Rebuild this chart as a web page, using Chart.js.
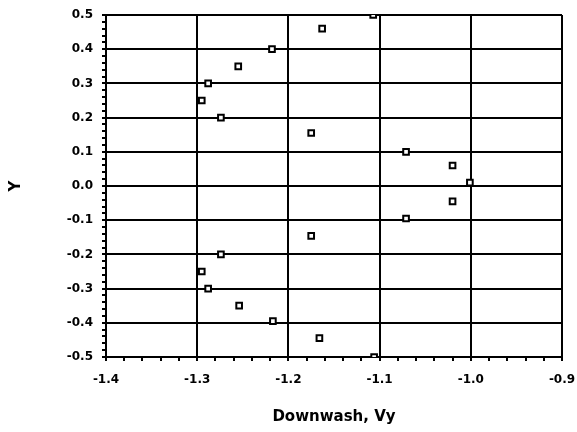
<!DOCTYPE html>
<html>
<head>
<meta charset="utf-8">
<script src="https://cdn.jsdelivr.net/npm/chart.js@4/dist/chart.umd.min.js"></script>
<style>
  html, body { margin: 0; padding: 0; background: #fff; }
  #wrap { width: 577px; height: 432px; }
</style>
</head>
<body>
<div id="wrap"><canvas id="chart" width="577" height="432"></canvas></div>
<script>
// downwash vs. span position
const vy = [-1.107, -1.163, -1.218, -1.255, -1.288, -1.295, -1.274, -1.175, -1.071, -1.020, -1.001,
            -1.020, -1.071, -1.175, -1.274, -1.295, -1.288, -1.254, -1.217, -1.166, -1.106];
const yPos = [0.50, 0.46, 0.40, 0.35, 0.30, 0.25, 0.20, 0.155, 0.10, 0.06, 0.01,
              -0.045, -0.095, -0.146, -0.20, -0.25, -0.30, -0.35, -0.395, -0.445, -0.50];

const xRange = [-1.4, -0.9];
const yRange = [-0.5, 0.5];
const xTitle = 'Downwash, Vy';
const yTitle = 'Y';

const points = vy.map((v, i) => ({ x: v, y: yPos[i] }));

const isMajor = v => Math.abs(v * 10 - Math.round(v * 10)) < 1e-6;
const family = 'DejaVu Sans, Arial, sans-serif';
const font = { family, size: 12, weight: 'bold' };
const titleFont = { family, size: 15, weight: 'bold' };

new Chart(document.getElementById('chart'), {
    type: 'scatter',
    data: {
        datasets: [{
            data: points,
            pointStyle: 'rect',
            pointRadius: 4,
            pointBorderWidth: 2,
            pointBorderColor: '#000',
            pointBackgroundColor: '#fff',
        }]
    },
    options: {
        responsive: false,
        animation: false,
        layout: { padding: { top: 15, right: 15, bottom: 6, left: 7 } },
        plugins: { legend: { display: false }, tooltip: { enabled: false } },
        scales: {
            x: {
                type: 'linear',
                min: xRange[0], max: xRange[1],
                afterFit: s => { s.height = 69; s.paddingLeft = 0; s.paddingRight = 0; },
                border: { color: '#000', width: 2 },
                grid: {
                    color: c => (c.tick && isMajor(c.tick.value)) ? '#000' : 'rgba(0,0,0,0)',
                    lineWidth: 2,
                    tickColor: '#000',
                    tickLength: 4,
                },
                ticks: {
                    stepSize: 0.02, autoSkip: false, maxRotation: 0,
                    color: '#000', font, padding: 12,
                    callback: v => isMajor(v) ? v.toFixed(1) : '',
                },
                title: {
                    display: true, text: xTitle, color: '#000',
                    font: titleFont,
                    padding: { top: 4, bottom: 0 },
                },
            },
            y: {
                type: 'linear',
                min: yRange[0], max: yRange[1],
                afterFit: s => { s.width = 99; s.paddingTop = 0; s.paddingBottom = 0; },
                border: { color: '#000', width: 2 },
                grid: {
                    color: c => (c.tick && isMajor(c.tick.value)) ? '#000' : 'rgba(0,0,0,0)',
                    lineWidth: 2,
                    tickColor: '#000',
                    tickLength: 4,
                },
                ticks: {
                    stepSize: 0.02, autoSkip: false,
                    color: '#000', font, padding: 9,
                    callback: v => isMajor(v) ? v.toFixed(1) : '',
                },
                title: {
                    display: true, text: yTitle, color: '#000',
                    font: titleFont,
                    padding: { top: 0, bottom: 40 },
                },
            },
        },
    },
});
</script>
</body>
</html>
